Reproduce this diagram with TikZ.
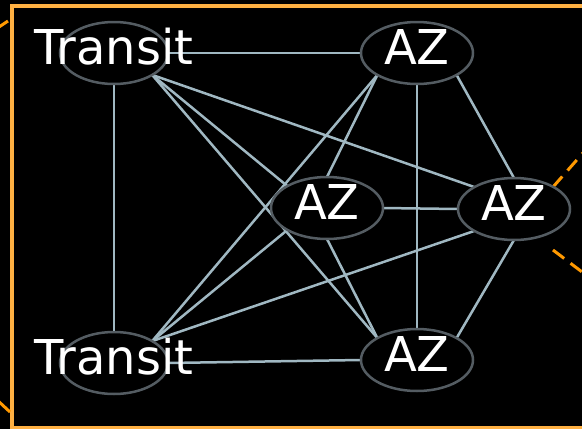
\documentclass[tikz,border=0pt]{standalone}
\usepackage{fontspec}
\setmainfont{DejaVu Sans}
\usepackage{tikz}
\usetikzlibrary{shapes.geometric, calc, positioning}

\definecolor{frameorange}{RGB}{255,176,66}
\definecolor{dashorange}{RGB}{255,153,0}
\definecolor{linkblue}{RGB}{160,184,194}
\definecolor{rimgray}{RGB}{84,92,98}

\pgfdeclarelayer{bg}
\pgfsetlayers{bg,main}

\begin{document}
\begin{tikzpicture}[x=1pt, y=-1pt,
    site/.style={ellipse, draw=rimgray, line width=2.5pt, fill=black,
        minimum width=112pt, minimum height=62pt, inner sep=0pt, outer sep=0pt},
    hub/.style={site, minimum width=108pt},
    sitetext/.style={text=white, inner sep=0pt, font=\fontsize{48}{48}\selectfont},
    link/.style={draw=linkblue, line width=2.5pt},
    feed/.style={draw=dashorange, line width=3pt, dash pattern=on 14pt off 8pt}]

    \useasboundingbox (0,0) rectangle (582,429);

    % sites
    \node[hub] (t1) at (114,53) {};
    \node[hub] (t2) at (114,363) {};
    \node[site] (az1) at (417,53) {};
    \node[site] (az2) at (327,208) {};
    \node[site] (az3) at (514,209) {};
    \node[site] (az4) at (417,360) {};

    \node[sitetext] (t1n) at ([yshift=6pt]t1) {Transit};
    \node[sitetext] (t2n) at ([yshift=6pt]t2) {Transit};
    \node[sitetext] (az1n) at ([yshift=6pt]az1) {AZ};
    \node[sitetext] (az2n) at ([yshift=6pt]az2) {AZ};
    \node[sitetext] (az3n) at ([yshift=6pt]az3) {AZ};
    \node[sitetext] (az4n) at ([yshift=6pt]az4) {AZ};

    \begin{pgfonlayer}{bg}
        \fill[black] (0,0) rectangle (582,429);
        \draw[frameorange, line width=4pt] (600,6) -- (12,6) -- (12,428) -- (600,428);

        % outside feeds
        \draw[feed] (553,187) -- (590,145);
        \draw[feed] (553,250) -- (590,278);
        \draw[dashorange, line width=3pt] (-4,29) -- (8,21);
        \draw[dashorange, line width=3pt] (-4,399) -- (10,412);

        % full mesh
        \draw[link] (t1.east) -- (az1.west);
        \draw[link] (t1.south) -- (t2.north);
        \draw[link] (t1.south east) -- (az2.north west);
        \draw[link] (t1.south east) -- (az3.north west);
        \draw[link] (t1.south east) -- (az4.north west);
        \draw[link] (t2.north east) -- (az1.south west);
        \draw[link] (t2.north east) -- (az2.south west);
        \draw[link] (t2.north east) -- (az3.south west);
        \draw[link] (t2.east) -- (az4.west);
        \draw[link] (az1.south west) -- (az2.north);
        \draw[link] (az1.south east) -- (az3.north);
        \draw[link] (az1.south) -- (az4.north);
        \draw[link] (az2.east) -- (az3.west);
        \draw[link] (az2.south) -- (az4.north west);
        \draw[link] (az3.south) -- (az4.north east);
    \end{pgfonlayer}
\end{tikzpicture}
\end{document}
